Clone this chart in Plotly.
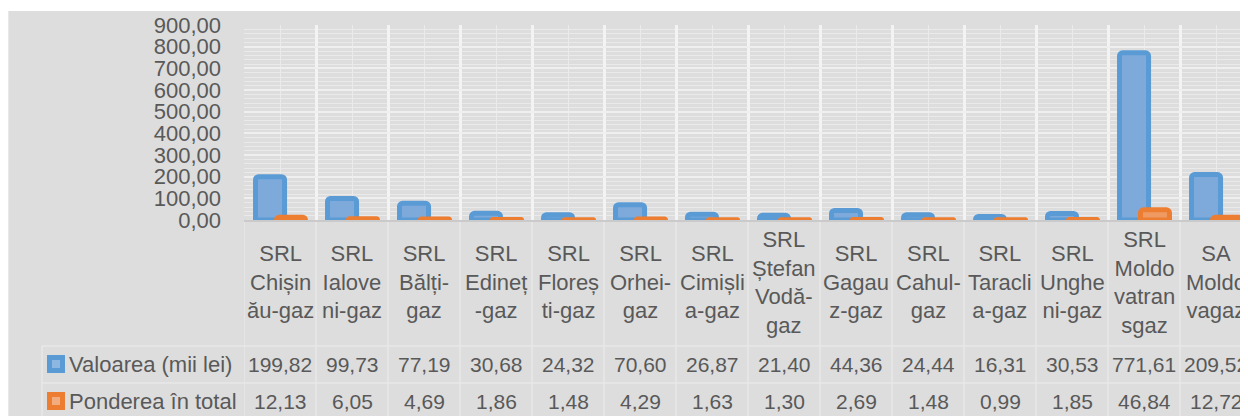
import plotly.graph_objects as go

categories = [
    "SRL<br>Chișin<br>ău-gaz", "SRL<br>Ialove<br>ni-gaz", "SRL<br>Bălți-<br>gaz",
    "SRL<br>Edineț<br>-gaz", "SRL<br>Floreș<br>ti-gaz", "SRL<br>Orhei-<br>gaz",
    "SRL<br>Cimișli<br>a-gaz", "SRL<br>Ștefan<br>Vodă-<br>gaz", "SRL<br>Gagau<br>z-gaz",
    "SRL<br>Cahul-<br>gaz", "SRL<br>Taracli<br>a-gaz", "SRL<br>Unghe<br>ni-gaz",
    "SRL<br>Moldo<br>vatran<br>sgaz", "SA<br>Moldo<br>vagaz",
]
valoarea = [199.82, 99.73, 77.19, 30.68, 24.32, 70.60, 26.87, 21.40, 44.36, 24.44, 16.31, 30.53, 771.61, 209.52]
ponderea = [12.13, 6.05, 4.69, 1.86, 1.48, 4.29, 1.63, 1.30, 2.69, 1.48, 0.99, 1.85, 46.84, 12.72]
series_names = ["Valoarea (mii lei)", "Ponderea în total"]
y_ticks = [0, 100, 200, 300, 400, 500, 600, 700, 800, 900]

# page has an 8px body margin; the figure fills the rest of the window
OFF = 8
W, H = 1248 - OFF, 416 - OFF
PL, PR, PT, PB = 244, 1248, 25, 220  # plot area in page pixels
pw, ph = PR - PL, PB - PT

def px_x(p):
    return (p - PL) / pw

def px_y(p):
    return (PB - p) / ph

BLUE, BLUE_F = "#5B9BD5", "#7DAADA"
ORANGE, ORANGE_F = "#ED7D31", "#EF9A62"
TXT = "#595959"
FONT = "Liberation Sans, Arial, sans-serif"
TLINE = "#E7E7E7"

xs = list(range(len(categories)))

fig = go.Figure()
fig.add_trace(go.Bar(
    x=xs, y=valoarea, name=series_names[0], offset=-0.34, width=0.403,
    marker=dict(color=BLUE_F, line=dict(color=BLUE, width=5), cornerradius=3),
))
fig.add_trace(go.Bar(
    x=xs, y=ponderea, name=series_names[1], offset=-0.049, width=0.403,
    marker=dict(color=ORANGE_F, line=dict(color=ORANGE, width=5), cornerradius=3),
))

shapes = []
annotations = []

# white strip above the grey chart area
shapes.append(dict(type="rect", xref="paper", yref="paper", x0=px_x(OFF - 2), x1=px_x(1260), y0=px_y(11), y1=px_y(OFF - 2),
                   fillcolor="white", line=dict(width=0), layer="above"))
shapes.append(dict(type="line", xref="paper", yref="paper", x0=px_x(OFF + 0.5), x1=px_x(OFF + 0.5), y0=px_y(420), y1=px_y(11),
                   line=dict(color="#E8E8E8", width=1), layer="above"))

# data table lines
for k in range(-1, len(categories)):
    shapes.append(dict(type="line", xref="x", yref="paper", x0=k + 0.5, x1=k + 0.5, y0=px_y(420), y1=px_y(222),
                       line=dict(color=TLINE, width=1.5), layer="above"))
for yy in (346, 383):
    shapes.append(dict(type="line", xref="paper", yref="paper", x0=px_x(42), x1=1, y0=px_y(yy), y1=px_y(yy),
                       line=dict(color=TLINE, width=1.5), layer="above"))
shapes.append(dict(type="line", xref="paper", yref="paper", x0=px_x(42), x1=px_x(42), y0=px_y(420), y1=px_y(346),
                   line=dict(color=TLINE, width=1.5), layer="above"))

# header labels
for i, c in enumerate(categories):
    annotations.append(dict(x=i, xref="x", y=px_y(282), yref="paper", text=c, showarrow=False,
                            xanchor="center", yanchor="middle", font=dict(family=FONT, size=22, color=TXT)))

def fmt(v):
    return f"{v:.2f}".replace(".", ",")

rows = [(valoarea, 364, BLUE, "#8DB7E1"), (ponderea, 401, ORANGE, "#F2AC7E")]
for (vals, cy, col, inner), name in zip(rows, series_names):
    for i, v in enumerate(vals):
        annotations.append(dict(x=i, xref="x", y=px_y(cy), yref="paper", text=fmt(v), showarrow=False,
                                xanchor="center", yanchor="middle", font=dict(family=FONT, size=21, color=TXT)))
    annotations.append(dict(x=px_x(67), xref="paper", y=px_y(cy), yref="paper", text=name, showarrow=False,
                            xanchor="left", yanchor="middle", font=dict(family=FONT, size=22, color=TXT)))
    shapes.append(dict(type="rect", xref="paper", yref="paper", x0=px_x(47), x1=px_x(65), y0=px_y(cy + 9), y1=px_y(cy - 9),
                       fillcolor=col, line=dict(width=0), layer="above"))
    shapes.append(dict(type="rect", xref="paper", yref="paper", x0=px_x(52), x1=px_x(60), y0=px_y(cy + 4), y1=px_y(cy - 4),
                       fillcolor=inner, line=dict(width=0), layer="above"))

fig.update_layout(
    width=W, height=H, autosize=False,
    margin=dict(l=PL - OFF, r=0, t=PT - OFF, b=H - (PB - OFF), pad=0),
    paper_bgcolor="#DDDDDD", plot_bgcolor="#DDDDDD",
    barmode="overlay", showlegend=False, separators=", ",
    font=dict(family=FONT, size=22, color=TXT),
    shapes=shapes, annotations=annotations,
)
fig.update_xaxes(
    range=[-0.5, -0.5 + (W - (PL - OFF)) / 72], showticklabels=False, ticks="",
    tickmode="linear", tick0=0.5, dtick=1, showgrid=True, gridcolor="#F3F3F3", gridwidth=2.5,
    minor=dict(tickmode="linear", tick0=0, dtick=1, showgrid=True, gridcolor="#EBEBEB", gridwidth=1),
    zeroline=False, showline=True, linecolor="#CACACA", linewidth=2, mirror=False,
)
fig.update_yaxes(
    range=[0, 900], tickmode="array", tickvals=y_ticks, tickformat=".2f",
    showgrid=True, gridcolor="#EFEFEF", gridwidth=1.5,
    minor=dict(tickmode="linear", tick0=0, dtick=20, showgrid=True, gridcolor="#EAEAEA", gridwidth=1),
    ticks="", ticklabelstandoff=22, zeroline=False, showline=False,
    tickfont=dict(family=FONT, size=22, color=TXT),
)

fig.write_html("out.html", config={"displayModeBar": False})
